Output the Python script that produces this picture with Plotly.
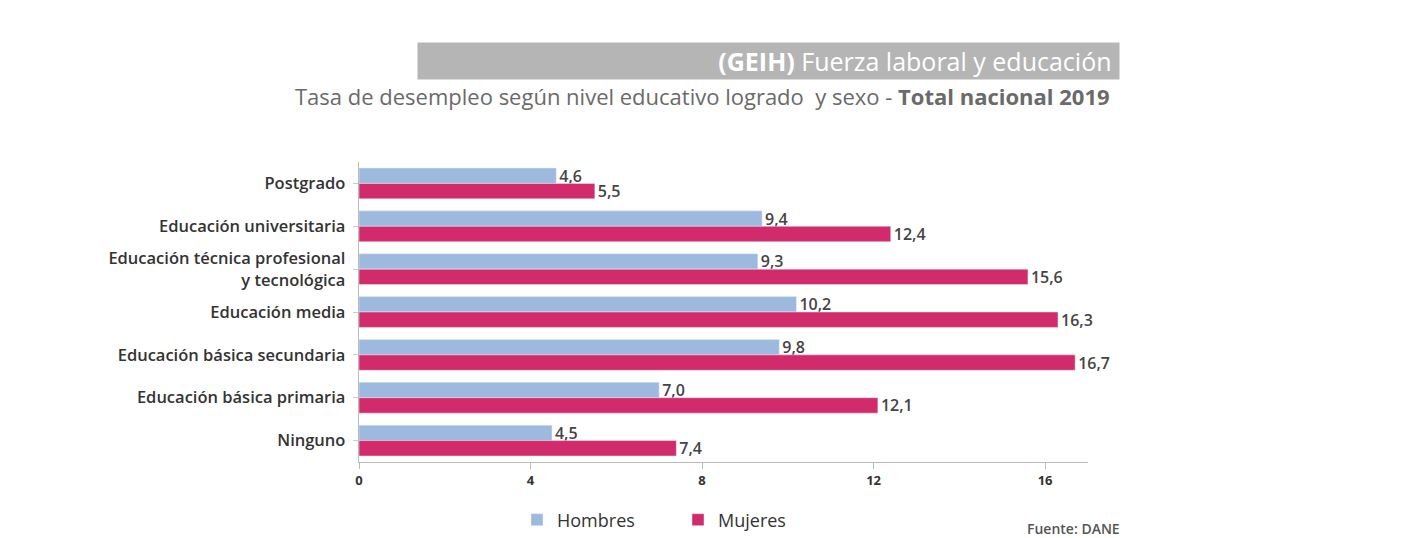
import plotly.graph_objects as go

categories = ["Postgrado", "Educación universitaria",
              "Educación técnica profesional <br>y tecnológica",
              "Educación media", "Educación básica secundaria",
              "Educación básica primaria", "Ninguno"]
hombres = [4.6, 9.4, 9.3, 10.2, 9.8, 7.0, 4.5]
mujeres = [5.5, 12.4, 15.6, 16.3, 16.7, 12.1, 7.4]
x_ticks = [0, 4, 8, 12, 16]

W, H = 1418, 538
L, R, T, B = 359, 1088, 162, 462

def fmt(v):
    return f"{v:.1f}".replace(".", ",")

lab_font = dict(size=16, color="#444", family="Open Sans", weight=600)

fig = go.Figure()
fig.add_trace(go.Bar(name="Hombres", y=categories, x=hombres, orientation="h",
                     marker_color="#9dbade", text=[fmt(v) for v in hombres],
                     textposition="outside", cliponaxis=False, constraintext="none",
                     textfont=lab_font))
fig.add_trace(go.Bar(name="Mujeres", y=categories, x=mujeres, orientation="h",
                     marker_color="#d22b6c", text=[fmt(v) for v in mujeres],
                     textposition="outside", cliponaxis=False, constraintext="none",
                     textfont=lab_font))

def px(xp):
    return (xp - L) / (R - L)

def py(yp):
    return (B - yp) / (B - T)

fig.update_layout(
    width=W, height=H,
    margin=dict(l=L, r=W - R, t=T, b=H - B, autoexpand=False),
    paper_bgcolor="white", plot_bgcolor="white",
    font=dict(family="Open Sans", color="#333"),
    barmode="group", bargap=0.28, bargroupgap=0,
    showlegend=True,
    legend=dict(orientation="h", x=px(678), xanchor="center", y=py(520), yanchor="middle",
                font=dict(size=18, color="#333"), itemwidth=30,
                entrywidth=116, traceorder="normal"),
    xaxis=dict(range=[0, 17], tickvals=x_ticks, ticktext=[str(v) for v in x_ticks],
               showgrid=False, zeroline=False, showline=True, linecolor="#bbb",
               ticks="outside", ticklen=6, tickcolor="#bbb",
               tickfont=dict(size=13, color="#333", family="Open Sans", weight=700),
               fixedrange=True),
    yaxis=dict(autorange="reversed", showgrid=False, showline=True, linecolor="#bbb",
               ticks="outside", ticklen=5, tickcolor="#ccc",
               tickfont=dict(size=16.5, color="#333", weight=600), ticksuffix=" "),
)

fig.add_annotation(xref="paper", yref="paper", x=px(1120), y=py(61), xanchor="right", yanchor="middle",
                   text="<b>(GEIH)</b> Fuerza laboral y educación ", showarrow=False,
                   width=699, height=34, align="right", bgcolor="#b5b5b5",
                   font=dict(size=25, color="white", family="Open Sans"))
fig.add_annotation(xref="paper", yref="paper", x=px(1112), y=py(96), xanchor="right", yanchor="middle",
                   text="Tasa de desempleo según nivel educativo logrado  y sexo - <b>Total nacional 2019</b>",
                   showarrow=False, font=dict(size=22, color="#6a6a6a", family="Open Sans"))
fig.add_annotation(xref="paper", yref="paper", x=px(1122), y=py(528), xanchor="right", yanchor="middle",
                   text="Fuente: DANE", showarrow=False,
                   font=dict(size=14, color="#555", family="Open Sans", weight=600))

fig.write_html("out.html")
